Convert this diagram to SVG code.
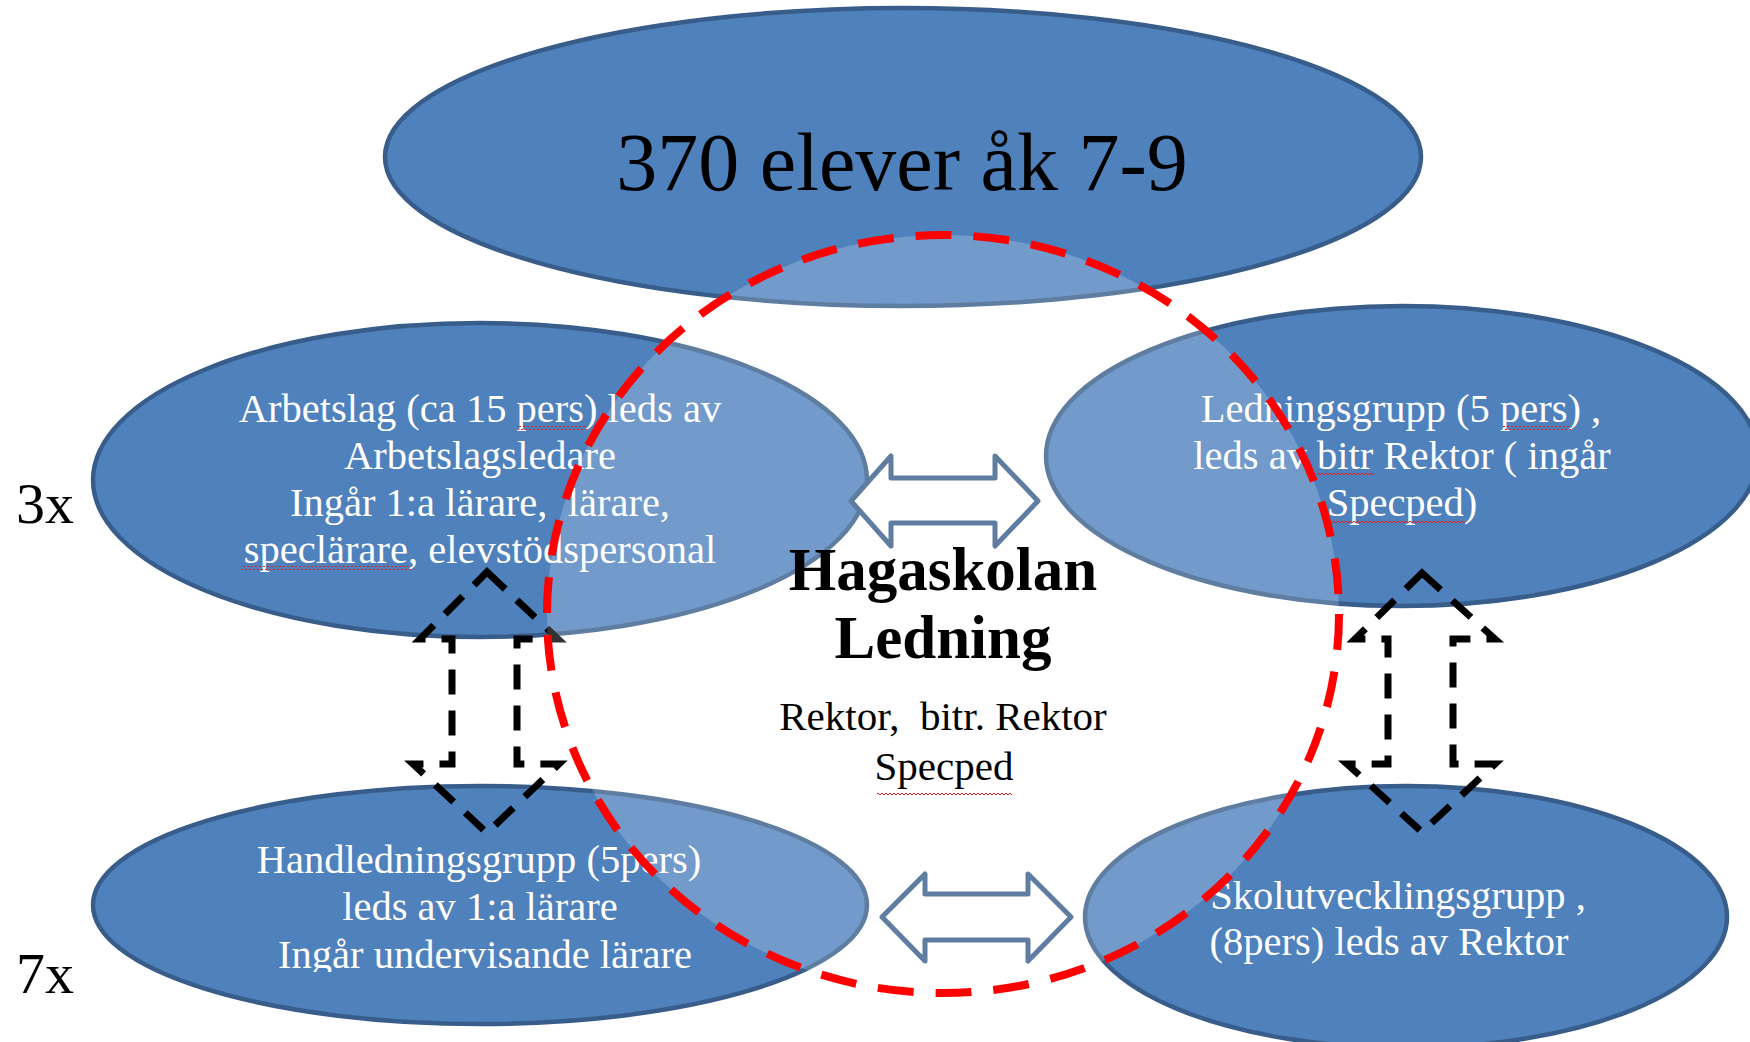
<svg xmlns="http://www.w3.org/2000/svg" width="1750" height="1042" viewBox="0 0 1750 1042">
<style>
.ell{fill:#4f81bd;stroke:#385d8a;stroke-width:4.5}
.wt{font-family:"Liberation Serif","Times New Roman",serif;font-size:40.5px;fill:#ffffff;text-anchor:middle}
.bk{font-family:"Liberation Serif","Times New Roman",serif;fill:#000000}
.hollow{fill:#ffffff;stroke:#385d8a;stroke-width:5;stroke-linejoin:round}
.dash{fill:none;stroke:#000000;stroke-width:7;stroke-dasharray:25 16;stroke-linejoin:miter}
.sq{fill:url(#squig)}
</style>
<defs>
<pattern id="squig" width="4" height="4" patternUnits="userSpaceOnUse">
<path d="M0 3 L2 1 L4 3" fill="none" stroke="#e02020" stroke-width="1"/>
</pattern>
<clipPath id="clipHand"><rect x="0" y="0" width="1750" height="972"/></clipPath>
</defs>
<rect width="1750" height="1042" fill="#ffffff"/>

<g id="node-elever">
<ellipse class="ell" cx="903" cy="157" rx="518" ry="149"/>
<text class="bk" x="902" y="190" font-size="82" text-anchor="middle">370 elever åk 7-9</text>
</g>

<g id="node-arbetslag">
<ellipse class="ell" cx="480" cy="480" rx="387" ry="157"/>
<text class="wt" x="480" y="422">Arbetslag (ca 15 pers) leds av</text>
<text class="wt" x="480" y="469">Arbetslagsledare</text>
<text class="wt" x="480" y="516" xml:space="preserve">Ingår 1:a lärare,  lärare,</text>
<text class="wt" x="480" y="563">speclärare, elevstödspersonal</text>
<rect class="sq" x="518" y="426" width="69" height="4"/>
<rect class="sq" x="242" y="566" width="169" height="4"/>
</g>

<g id="node-ledningsgrupp">
<ellipse class="ell" cx="1402" cy="456" rx="356" ry="150"/>
<text class="wt" x="1401" y="422">Ledningsgrupp (5 pers) ,</text>
<text class="wt" x="1402" y="469">leds av bitr Rektor ( ingår</text>
<text class="wt" x="1402" y="516">Specped)</text>
<rect class="sq" x="1503" y="426" width="69" height="4"/>
<rect class="sq" x="1317" y="473" width="57" height="4"/>
<rect class="sq" x="1327" y="520" width="138" height="4"/>
</g>

<g id="node-handledningsgrupp">
<ellipse class="ell" cx="480" cy="905" rx="387" ry="119"/>
<g clip-path="url(#clipHand)">
<text class="wt" x="479" y="873">Handledningsgrupp (5pers)</text>
<text class="wt" x="480" y="920">leds av 1:a lärare</text>
<text class="wt" x="485" y="968">Ingår undervisande lärare</text>
</g>
</g>

<g id="node-skolutveckling">
<ellipse class="ell" cx="1406" cy="917" rx="321" ry="131"/>
<text class="wt" x="1398" y="909">Skolutvecklingsgrupp ,</text>
<text class="wt" x="1389" y="955">(8pers) leds av Rektor</text>
</g>

<g id="label-3x"><text class="bk" x="16" y="523" font-size="58">3x</text></g>
<g id="label-7x"><text class="bk" x="16" y="993" font-size="58">7x</text></g>

<g id="connectors">
<path class="hollow" d="M851,501 L891,456 L891,478 L995,478 L995,456 L1038,501 L995,546 L995,523 L891,523 L891,546 Z"/>
<path class="hollow" d="M882,917 L925,874 L925,894 L1028,894 L1028,874 L1071,917 L1028,961 L1028,940 L925,940 L925,961 Z"/>
<path class="dash" d="M487,572 L558,639 L517,639 L517,764 L559,764 L487,833 L413,764 L452,764 L452,639 L420,639 Z"/>
<path class="dash" d="M1422,573 L1495,639 L1453,639 L1453,764 L1495,764 L1422,832 L1347,764 L1388,764 L1388,639 L1355,639 Z"/>
</g>

<g id="node-ledning">
<ellipse cx="943" cy="614" rx="396" ry="379" fill="#ffffff" fill-opacity="0.2" stroke="#ff0000" stroke-width="8" stroke-dasharray="36 22"/>
<text class="bk" x="943" y="590" font-size="61" font-weight="bold" text-anchor="middle">Hagaskolan</text>
<text class="bk" x="943" y="658" font-size="61" font-weight="bold" text-anchor="middle">Ledning</text>
<text class="bk" x="943" y="730" font-size="41" text-anchor="middle" xml:space="preserve">Rektor,  bitr. Rektor</text>
<text class="bk" x="944" y="780" font-size="41" text-anchor="middle">Specped</text>
<rect class="sq" x="877" y="791" width="135" height="4"/>
</g>
</svg>
